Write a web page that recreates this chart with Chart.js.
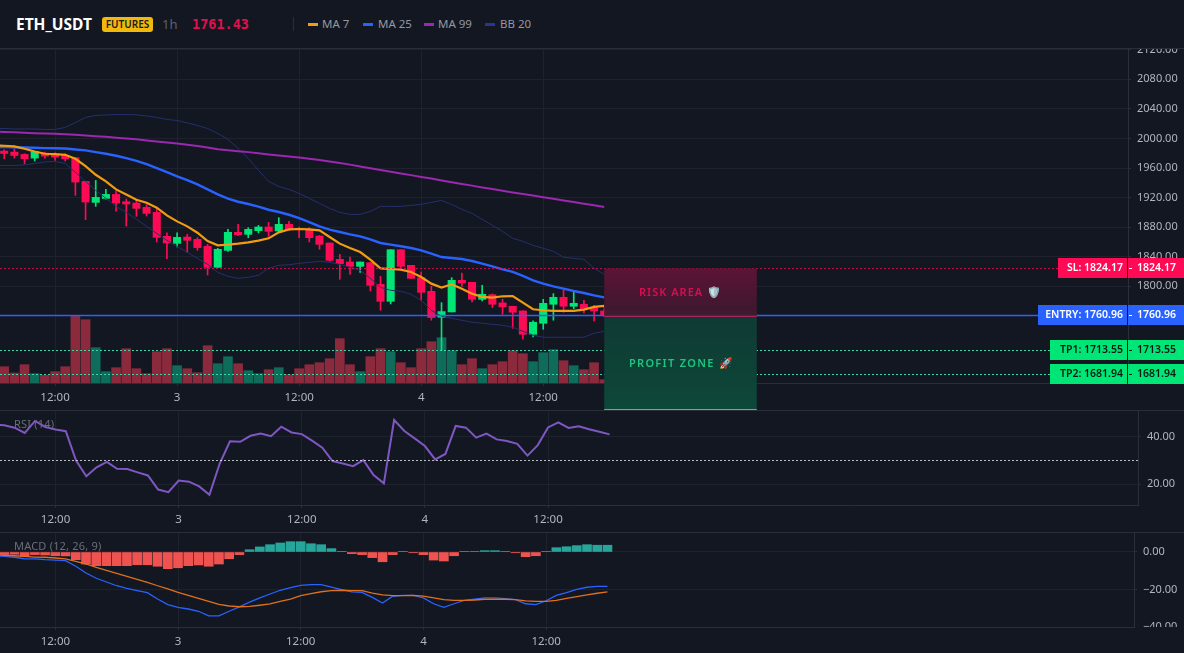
<!DOCTYPE html>
<html>
<head>
<meta charset="utf-8">
<title>ETH_USDT 1h</title>
<script src="https://cdn.jsdelivr.net/npm/chart.js@4"></script>
<style>
  html, body { margin: 0; padding: 0; background: #131722; width: 1184px; height: 653px; overflow: hidden; }
  body { position: relative; font-family: "Noto Sans", sans-serif; }
  canvas { position: absolute; left: 0; }
  .rule { position: absolute; left: 0; width: 1184px; height: 1px; background: #2a2e39; }
  .hdr { position: absolute; white-space: nowrap; line-height: 16px; }
  .swatch { position: absolute; width: 10px; height: 2.5px; top: 23px; }
  .pane-title { position: absolute; left: 14px; font-size: 11px; line-height: 14px; color: #6a6e7a; letter-spacing: .2px; }
</style>
</head>
<body>
<div class="hdr" style="left:16px;top:16px;font-size:15.5px;font-weight:700;color:#fff">ETH_USDT</div>
<div class="hdr" style="left:102px;top:17px;width:51px;height:15px;line-height:15px;background:#f0b90b;border-radius:3px;color:#1b1b1b;font-size:10px;font-weight:600;text-align:center">FUTURES</div>
<div class="hdr" style="left:162px;top:16px;font-size:13px;color:#5d606b">1h</div>
<div class="hdr" style="left:192px;top:16px;font-family:'DejaVu Sans Mono';font-size:13.5px;font-weight:700;color:#e0104f">1761.43</div>
<div style="position:absolute;left:293px;top:17px;width:1px;height:14px;background:#2a2e39"></div>
<div class="swatch" style="left:308px;background:#f39c12"></div>
<div class="hdr" style="left:322px;top:16px;font-size:11.5px;color:#9598a1">MA 7</div>
<div class="swatch" style="left:363px;background:#2962ff"></div>
<div class="hdr" style="left:378px;top:16px;font-size:11.5px;color:#9598a1">MA 25</div>
<div class="swatch" style="left:424px;background:#9c27b0"></div>
<div class="hdr" style="left:438px;top:16px;font-size:11.5px;color:#9598a1">MA 99</div>
<div class="swatch" style="left:485px;background:#283593"></div>
<div class="hdr" style="left:500px;top:16px;font-size:11.5px;color:#9598a1">BB 20</div>

<div class="rule" style="top:48px"></div>
<div class="rule" style="top:410px"></div>
<div class="rule" style="top:532px"></div>

<canvas id="price" width="1184" height="361" style="top:49px"></canvas>
<canvas id="rsi" width="1184" height="121" style="top:411px"></canvas>
<canvas id="macd" width="1184" height="120" style="top:533px"></canvas>
<div class="pane-title" style="top:417px">RSI (14)</div>
<div class="pane-title" style="top:539px">MACD (12, 26, 9)</div>

<script>
// Hourly candles, oldest first.
const opens  = [1982.9,1981.5,1978.4,1973.4,1980.2,1978.4,1976.1,1973.9,1941.9,1913.5,1918.9,1924.3,1914.4,1912.6,1906.8,1900,1867.6,1858.1,1866.7,1863.5,1854.1,1825.7,1848.6,1873,1870.3,1875.2,1880.2,1874.8,1883.8,1878.4,1875.7,1868,1858.6,1836.5,1832.9,1827,1832,1802.7,1779.7,1849.5,1828.4,1811.7,1793.2,1758.1,1765.3,1808.1,1805.4,1782.4,1788.7,1777.5,1773,1766.7,1735.1,1750,1775.7,1785.1,1773,1775.7,1771.2,1766.7];
const highs  = [1984.7,1986,1979.3,1982,1981.5,1980.6,1979.3,1973.9,1941.9,1943.2,1931.1,1928.8,1918,1917.1,1910.4,1906.3,1872.5,1872.5,1870.3,1865.8,1856.8,1851.4,1877,1883.8,1879.3,1882.4,1886.5,1892.8,1887.8,1880.2,1879.3,1868.9,1858.6,1843.2,1839.6,1832.9,1832,1813.5,1849.5,1849.5,1828.4,1819.4,1800,1777.9,1811.7,1818,1805.4,1801.4,1789.6,1782.4,1773,1766.7,1753.2,1782.4,1790.1,1795.5,1791.9,1781.1,1774.3,1772];
const lows   = [1972.5,1973.4,1965.8,1969.4,1973.4,1970.3,1969.4,1923,1890.1,1908.1,1918,1901.8,1881.5,1894.6,1895,1859.9,1837.4,1853.2,1846.4,1848.6,1815.3,1825.7,1847.3,1868.5,1865.8,1872.1,1867.6,1873.9,1875.7,1865.8,1859.9,1850,1833.8,1809.5,1816.2,1818.9,1793.7,1767.6,1776.1,1823.9,1810.8,1781.1,1754.1,1713.5,1765.3,1800,1778.8,1780.2,1771.2,1762.2,1743.2,1728.4,1731.5,1741.9,1754.1,1764.9,1769.8,1764,1753.2,1758.6];
const closes = [1979.7,1977,1972.5,1982,1976.1,1974.8,1972.5,1941,1914,1920.3,1924.3,1912.6,1911.3,1905.4,1898.6,1866.2,1858.6,1866.2,1862.2,1852.3,1825.7,1850,1873,1869.8,1877,1880.2,1874.3,1883.8,1877.5,1876.6,1865.8,1856.8,1835.1,1830.6,1827,1832.9,1801.4,1779.7,1849.5,1827,1810.8,1791.9,1757.7,1765.8,1808.1,1804.5,1782.4,1789.2,1775.7,1772.1,1764.9,1735.1,1751.4,1777,1785.1,1773,1777,1769.8,1766.7,1761.43];
const volumes = [163,100,183,93,77,113,163,677,633,353,113,153,343,143,93,313,343,173,143,103,373,193,263,193,123,93,133,153,83,143,183,203,243,443,183,113,263,343,313,203,153,343,413,453,323,183,243,143,183,213,323,293,213,303,333,223,173,133,203,33];

// Overlays; the first value of each sits one hour before the first candle.
const ma7  = [1990.5,1990.1,1989.2,1986,1982.4,1979.3,1978.8,1977.9,1972.5,1962.6,1950.9,1941.9,1931.1,1924.3,1917.1,1913.1,1906.3,1895.9,1887.8,1881.1,1872.5,1861.3,1855.4,1856.3,1857.7,1859.5,1861.7,1864.9,1873,1877,1877.5,1877,1875.7,1866.7,1857.7,1851.8,1846.4,1836,1824.3,1823.4,1822.5,1819.4,1812.6,1803.6,1798.2,1802.7,1796.8,1790.1,1785.6,1784.7,1786.5,1786.9,1777.9,1768.9,1767.6,1766.7,1766.7,1766.7,1768.5,1772.1,1773.4];
const ma25 = [1988.4,1988.3,1988.1,1987.8,1987.4,1986.9,1986.7,1986.5,1985.1,1983.8,1981.5,1979.3,1976.6,1973.4,1969.8,1965.3,1959.9,1954.5,1948.6,1943.7,1937.8,1931.1,1924.3,1918.5,1914.4,1911.3,1907.7,1903.6,1900.5,1896.8,1892.3,1886.9,1881.1,1876.6,1873.4,1870.3,1867.6,1863.5,1858.6,1856.3,1854.1,1851.8,1848.6,1844.1,1839.6,1838.3,1836.9,1834.2,1830.6,1827,1823,1819.4,1814,1808.1,1803.6,1800,1796.8,1793.7,1791,1787.8,1785.1];
const ma99 = [2009.1,2008.8,2008.4,2007.8,2007.2,2006.8,2006.4,2005.8,2005,2004.1,2003.1,2002.2,2001.1,2000,1998.8,1997.3,1996,1994.6,1993.1,1991.5,1989.7,1987.8,1985.5,1984.2,1982.8,1981.5,1980,1978.4,1977,1975.7,1974.3,1972.7,1970.8,1968.9,1966.9,1964.6,1962.2,1959.7,1957.4,1955.1,1952.7,1950.4,1948,1945.7,1943.2,1940.8,1938.5,1936.2,1933.8,1931.5,1929.3,1927,1924.9,1922.7,1920.5,1918.4,1916.2,1913.9,1911.6,1909.5,1907.2];
const bbUpper = [2013.5,2013.5,2012.8,2012.8,2012.8,2012.2,2012.2,2014.9,2021.6,2028.4,2031.1,2031.8,2032.4,2032.4,2032,2030.4,2028.4,2025.7,2024.3,2021,2017.6,2013.5,2006.8,1998.7,1986.5,1973,1956.8,1941.9,1935.1,1931.1,1925.7,1918.9,1912.2,1905.4,1900,1897.3,1897.3,1901.4,1908.1,1908.1,1908.1,1909.5,1910.8,1913.5,1916.2,1910.8,1904.1,1898.7,1890.5,1882.4,1874.3,1864.9,1860.8,1855.4,1851.4,1847.3,1839.2,1837.8,1836.5,1824.3,1816.2];
const bbLower = [1963.5,1963.5,1963.5,1964.2,1966.2,1968.2,1968.9,1966.2,1954.1,1941.9,1929.7,1918.9,1908.1,1900,1890.5,1881.1,1871.6,1862.2,1854.1,1845.9,1837.8,1829.7,1818.9,1813.5,1810.8,1812.2,1814.9,1824.3,1828.4,1829.1,1831.1,1832.4,1833.8,1832.4,1829.7,1825.7,1821.6,1810.8,1798.6,1794.6,1793.2,1789.2,1781.1,1767.6,1759.5,1756.8,1754.1,1751.4,1750,1748.6,1747.3,1744.6,1739.2,1733.8,1731.1,1731.1,1731.1,1731.1,1731.1,1736.5,1739.2];

// Relative strength, MACD line, signal line, histogram.
const rsiValues = [44.9,44.7,43.7,41.5,46.5,44,42.9,42.2,29.9,23.4,27.1,29.4,26.5,26.4,25,23.7,17.8,16.7,21.6,21.1,19.1,15.6,28.7,38,37.8,40.3,41.2,40.1,44.1,41.7,41,38.3,35.3,29.7,28.7,27.6,30.1,23.9,20.4,46.9,42.3,39.2,36,30.4,32.7,44.4,43.7,39.5,41.2,38.8,38.1,36.9,32,36.4,43.8,45.9,43.6,44.3,43,42,40.9];
const macdLine = [-2,-2.3,-2.8,-3.6,-3.7,-4.1,-4.3,-4.6,-7.6,-11.2,-14,-16,-18,-19.4,-20.6,-21.7,-25.1,-28.1,-29.5,-30.4,-31.6,-34.1,-34.1,-31.6,-29.3,-26.7,-24.5,-22.4,-20.4,-19,-17.8,-17.4,-17.4,-18.7,-20.1,-21.3,-21.5,-24.2,-27.2,-23.6,-23.1,-23.1,-24.5,-27.6,-29.5,-27.6,-25.8,-25.2,-24.5,-24.5,-24.9,-25.4,-27.6,-28.1,-26,-23.1,-21.7,-19.9,-18.8,-18.3,-18.3];
const signalLine = [-1.6,-1.8,-2,-2.3,-2.7,-2.8,-3.2,-3.7,-5,-6.4,-8.2,-9.8,-11.4,-13,-14.6,-16.2,-18,-19.7,-21.5,-23.1,-24.7,-26.3,-27.9,-28.8,-29.2,-29,-28.4,-27.7,-26.3,-25.1,-23.3,-22.2,-21.2,-20.6,-20.4,-20.6,-20.6,-21.9,-22.9,-23.3,-23.3,-23.1,-23.5,-24.5,-25.4,-25.8,-25.8,-25.6,-25.2,-25.2,-25.2,-25.4,-26.1,-26.3,-26.3,-25.8,-24.7,-23.8,-22.9,-22,-21.3];
const histogram = [-1.4,-1.2,-2.1,-1.4,-1.6,-2,-2.1,-4.1,-6.4,-7.3,-7.3,-7.3,-7.3,-6.8,-6.8,-7.6,-8.9,-8.4,-7.3,-6.9,-7.6,-6.4,-3.6,-1.4,1.2,2.7,3.9,4.8,5.5,5.5,4.4,3.9,1.8,0.2,-0.9,-1.4,-3,-5.2,-1.4,0.2,-0.4,-1.4,-4.3,-4.8,-2,0.2,0.2,0.7,0.7,0.2,-0.4,-2.5,-2,0.2,2.3,2.8,3.4,3.9,3.6,3.6];

// Axis ticks.
const timeTickIndex = [5, 17, 29, 41, 53];
const timeTickLabels = ['12:00', '3', '12:00', '4', '12:00'];
const priceTicks = [2120, 2080, 2040, 2000, 1960, 1920, 1880, 1840, 1800];
const rsiTicks = [40, 20];
const macdTicks = [0, -20, -40];

// Trade levels and the zones drawn from them.
const stopLoss = 1824.17, entryPrice = 1760.96, takeProfit1 = 1713.55, takeProfit2 = 1681.94;
const rsiMidline = 30;
const zoneFloor = 1632.4;
const zoneStart = 59, zoneEnd = 74;

const FONT = '"Noto Sans", sans-serif';
const TEXT = '#b2b5be', GRID = '#1e222d', AXIS = '#2a2e39';
const UP = '#00e676', DOWN = '#ff0a54';
const X_MIN = -0.413, X_MAX = 110.5;

const toPoints = (values, first) => values.map((v, i) => ({ x: i + first, y: v }));
const isUp = i => closes[i] >= opens[i];

function xAxis(height) {
  return {
    type: 'linear', min: X_MIN, max: X_MAX, offset: false,
    afterBuildTicks: s => { s.ticks = timeTickIndex.map(v => ({ value: v })); },
    afterFit: s => { s.height = height; s.paddingLeft = 0; s.paddingRight = 0; },
    grid: { color: GRID, tickColor: AXIS, tickLength: 3, offset: false },
    border: { color: AXIS },
    ticks: {
      autoSkip: false, maxRotation: 0, padding: 5, color: TEXT,
      font: { family: FONT, size: 11.5 },
      callback: v => timeTickLabels[timeTickIndex.indexOf(v)] ?? ''
    }
  };
}

function yAxis(min, max, tickValues, width) {
  return {
    position: 'right', min, max,
    afterBuildTicks: s => { s.ticks = tickValues.map(v => ({ value: v })); },
    afterFit: s => { s.width = width; s.paddingTop = 0; s.paddingBottom = 0; },
    grid: { color: GRID, tickColor: AXIS, tickLength: 3 },
    border: { color: AXIS },
    ticks: {
      padding: 6, color: TEXT, font: { family: FONT, size: 11 },
      callback: v => (v < 0 ? '\u2212' : '') + Math.abs(v).toFixed(2)
    }
  };
}

function line(data, color, width, order, yAxisID) {
  return { type: 'line', data: toPoints(data, -1), borderColor: color, borderWidth: width,
           pointRadius: 0, tension: 0, fill: false, order, yAxisID: yAxisID || 'y' };
}

const baseOptions = {
  responsive: false, animation: false, events: [],
  layout: { padding: 0 },
  plugins: { legend: { display: false }, tooltip: { enabled: false } },
  datasets: { bar: { grouped: false, borderWidth: 0 } }
};

function hLine(ctx, y, x0, x1, color, dash, width) {
  ctx.save();
  ctx.strokeStyle = color; ctx.lineWidth = width || 1; ctx.setLineDash(dash);
  ctx.beginPath();
  ctx.moveTo(x0, Math.round(y) + 0.5); ctx.lineTo(x1, Math.round(y) + 0.5);
  ctx.stroke();
  ctx.restore();
}

const levels = [
  { name: 'SL', value: stopLoss, bg: '#ff0a54', fg: '#ffffff', line: 'rgba(255,10,84,.75)', dash: [2, 2], left: 1058, width: 1 },
  { name: 'ENTRY', value: entryPrice, bg: '#2962ff', fg: '#ffffff', line: '#2962ff', dash: [], left: 1038, width: 1.4 },
  { name: 'TP1', value: takeProfit1, bg: '#00e676', fg: '#0c1a14', line: '#3fd6a6', dash: [2, 2], left: 1050, width: 1 },
  { name: 'TP2', value: takeProfit2, bg: '#00e676', fg: '#0c1a14', line: '#3fd6a6', dash: [2, 2], left: 1050, width: 1 }
];

// Price lines and the risk / profit zones sit above the candles.
const tradePlugin = {
  id: 'trade',
  afterDatasetsDraw(chart) {
    const { ctx, scales: { x, y } } = chart;
    levels.forEach(l => hLine(ctx, y.getPixelForValue(l.value), 0, l.left, l.line, l.dash, l.width));

    const left = x.getPixelForValue(zoneStart), right = x.getPixelForValue(zoneEnd);
    const slY = y.getPixelForValue(stopLoss), enY = y.getPixelForValue(entryPrice);
    const floorY = y.getPixelForValue(zoneFloor);

    const risk = ctx.createLinearGradient(0, slY, 0, enY);
    risk.addColorStop(0, '#5c1436');
    risk.addColorStop(0.85, '#41172f');
    risk.addColorStop(1, '#3a1e30');
    ctx.fillStyle = risk;
    ctx.fillRect(left, slY, right - left, enY - slY);

    const profit = ctx.createLinearGradient(0, enY, 0, floorY);
    profit.addColorStop(0, '#0f3a34');
    profit.addColorStop(1, '#0d4839');
    ctx.fillStyle = profit;
    ctx.fillRect(left, enY, right - left, floorY - enY);

    hLine(ctx, enY + 1, left, right, '#b0205a', []);
    hLine(ctx, floorY - 1, left, right, '#1fd38a', []);

    ctx.save();
    ctx.textBaseline = 'middle'; ctx.textAlign = 'center';
    ctx.font = '600 11px ' + FONT;
    ctx.letterSpacing = '1px';
    ctx.fillStyle = '#d60f52';
    ctx.fillText('RISK AREA \u{1F6E1}\uFE0F', (left + right) / 2, (slY + enY) / 2 + 1);
    ctx.letterSpacing = '1.3px';
    ctx.fillStyle = '#1fc47f';
    ctx.fillText('PROFIT ZONE \u{1F680}', (left + right) / 2 + 1, (enY + floorY) / 2 + 1);
    ctx.restore();
  },
  afterDraw(chart) {
    const { ctx, scales: { y }, chartArea } = chart;
    ctx.save();
    ctx.font = '600 10.5px ' + FONT;
    ctx.textBaseline = 'middle';
    levels.forEach(l => {
      const py = Math.round(y.getPixelForValue(l.value));
      const text = l.value.toFixed(2);
      ctx.fillStyle = l.bg;
      ctx.fillRect(l.left, py - 10, chartArea.right - 1 - l.left, 20);
      ctx.fillRect(chartArea.right, py - 10, chart.width - chartArea.right, 20);
      ctx.fillStyle = l.fg;
      ctx.textAlign = 'right';
      ctx.fillText(l.name + ': ' + text, chartArea.right - 5, py);
      ctx.fillRect(chartArea.right + 1, py, 3, 1);
      ctx.textAlign = 'left';
      ctx.fillText(text, chartArea.right + 9, py);
    });
    ctx.restore();
  }
};

// RSI reference level.
const midlinePlugin = {
  id: 'midline',
  afterDatasetsDraw(chart) {
    const { ctx, scales: { y }, chartArea } = chart;
    hLine(ctx, y.getPixelForValue(rsiMidline), 0, chartArea.right, 'rgba(255,255,255,.72)', [2, 2]);
  }
};

// The lowest MACD label is cut off at the pane edge.
const clipLabelPlugin = {
  id: 'clipLabel',
  afterDraw(chart) {
    const { ctx, chartArea } = chart;
    ctx.clearRect(chartArea.right + 1, chartArea.bottom, chart.width, chart.height);
  }
};

new Chart(document.getElementById('price'), {
  type: 'bar',
  data: {
    datasets: [
      line(ma7, '#f39c12', 2.2, 1),
      line(ma25, '#2962ff', 2.4, 2),
      line(ma99, '#9c27b0', 2, 3),
      line(bbUpper, '#24306e', 1, 4),
      line(bbLower, '#24306e', 1, 4),
      { data: opens.map((o, i) => ({ x: i, y: [o, closes[i]] })), barThickness: 7.4, order: 5,
        backgroundColor: opens.map((_, i) => isUp(i) ? UP : DOWN) },
      { data: lows.map((l, i) => ({ x: i, y: [l, highs[i]] })), barThickness: 1, order: 6,
        backgroundColor: opens.map((_, i) => isUp(i) ? UP : DOWN) },
      { data: volumes.map((v, i) => ({ x: i, y: v })), yAxisID: 'vol', barThickness: 9, order: 7,
        backgroundColor: opens.map((_, i) => isUp(i) ? '#0f6b5a' : '#8c2a3d') }
    ]
  },
  options: {
    ...baseOptions,
    scales: {
      x: xAxis(27),
      y: yAxis(1669.2, 2121, priceTicks, 56),
      vol: { display: false, min: 0, max: 3340 }
    }
  },
  plugins: [tradePlugin]
});

new Chart(document.getElementById('rsi'), {
  type: 'line',
  data: { datasets: [ line(rsiValues, '#7e57c2', 2, 1) ] },
  options: { ...baseOptions, scales: { x: xAxis(27), y: yAxis(11.34, 50.67, rsiTicks, 46) } },
  plugins: [midlinePlugin]
});

new Chart(document.getElementById('macd'), {
  type: 'bar',
  data: {
    datasets: [
      line(signalLine, '#e0701c', 1.3, 1),
      line(macdLine, '#2962ff', 1.3, 2),
      { data: histogram.map((v, i) => ({ x: i, y: v })), barThickness: 9, order: 3,
        backgroundColor: histogram.map(v => v >= 0 ? '#26a69a' : '#ef5350') }
    ]
  },
  options: { ...baseOptions, scales: { x: xAxis(26), y: yAxis(-40, 10.13, macdTicks, 50) } },
  plugins: [clipLabelPlugin]
});
</script>
</body>
</html>
